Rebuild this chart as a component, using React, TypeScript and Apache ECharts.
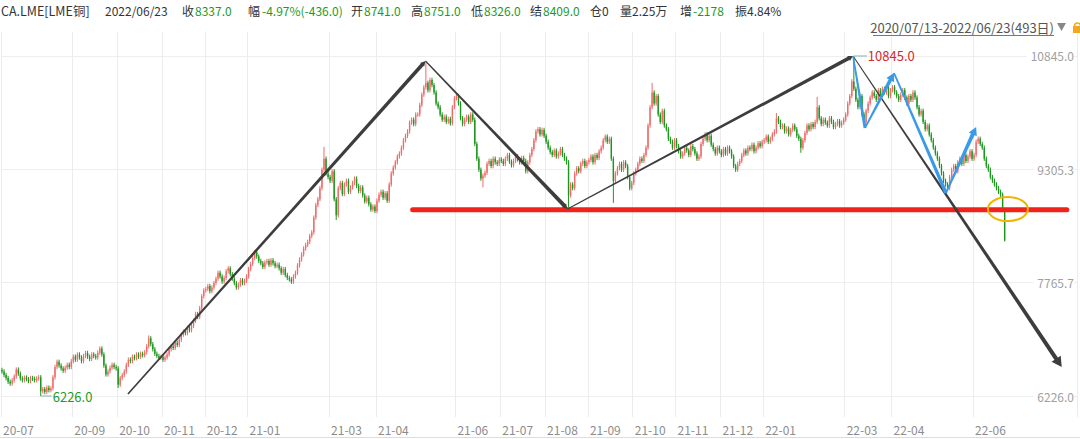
import React, { useEffect, useRef } from 'react';
import * as echarts from 'echarts';

// ---------- data ----------
const monthLabels = ['20-07','20-08','20-09','20-10','20-11','20-12','21-01','21-02','21-03','21-04','21-05','21-06','21-07','21-08','21-09','21-10','21-11','21-12','22-01','22-02','22-03','22-04','22-05','22-06'];
const shownMonths = ['20-07','20-09','20-10','20-11','20-12','21-01','21-03','21-04','21-06','21-07','21-08','21-09','21-10','21-11','21-12','22-01','22-03','22-04','22-06'];

const jul20 = [6560, 6510, 6470, 6420, 6395, 6440, 6490, 6585, 6530, 6465, 6440, 6475, 6455, 6430, 6470];
const aug20 = [6460, 6440, 6465, 6480, 6290, 6320, 6280, 6340, 6305, 6330, 6480, 6620, 6690, 6640, 6600, 6570, 6610, 6650, 6620, 6700];
const sep20 = [6760, 6720, 6790, 6750, 6700, 6770, 6810, 6760, 6730, 6790, 6770, 6750, 6815, 6870, 6790, 6640, 6520, 6560, 6610, 6650, 6620, 6600];
const oct20 = [6380, 6470, 6510, 6560, 6650, 6720, 6700, 6760, 6740, 6790, 6760, 6800, 6780, 6820, 6900, 7010, 6930, 6860, 6800, 6770, 6745, 6760];
const nov20 = [6720, 6750, 6790, 6860, 6900, 6880, 6950, 6920, 6990, 7060, 7100, 7080, 7150, 7120, 7180, 7250, 7340, 7300, 7420, 7580, 7660];
const dec20 = [7680, 7720, 7650, 7700, 7760, 7820, 7900, 7850, 7780, 7830, 7920, 7960, 7880, 7820, 7760, 7700, 7740, 7800, 7760, 7790, 7850];
const jan21 = [7950, 8020, 8100, 8180, 8120, 8060, 8030, 7980, 8040, 8060, 8010, 8070, 8030, 7990, 8010, 7960, 7900, 7950, 7870, 7830];
const feb21 = [7810, 7780, 7850, 7900, 8000, 8080, 8150, 8230, 8280, 8320, 8400, 8450, 8650, 8820, 8900, 9050, 9300, 9450, 9250, 9200];
const mar21 = [9150, 9280, 8900, 8680, 9050, 9120, 8970, 9100, 9150, 9000, 9060, 9120, 9180, 9080, 9010, 9060, 8950, 8870, 8920, 8830, 8760, 8800, 8740];
const apr21 = [8880, 8960, 9000, 8920, 8980, 8880, 9100, 9250, 9330, 9400, 9480, 9520, 9600, 9700, 9760, 9820, 9940, 9980, 9920, 10050];
const may21 = [10050, 10180, 10320, 10420, 10480, 10380, 10520, 10450, 10350, 10200, 10150, 10050, 9980, 10020, 9950, 9990, 9930, 10150, 10270];
const jun21 = [10300, 10200, 10000, 9920, 9980, 10020, 9950, 10050, 9980, 9650, 9450, 9300, 9180, 9220, 9260, 9380, 9420, 9350, 9450, 9400, 9380, 9440];
const jul21 = [9420, 9380, 9450, 9500, 9410, 9360, 9420, 9480, 9440, 9400, 9460, 9420, 9280, 9400, 9500, 9580, 9700, 9820, 9850, 9780, 9840, 9760];
const aug21 = [9680, 9600, 9540, 9500, 9560, 9480, 9520, 9580, 9500, 9450, 9400, 8950, 9100, 9050, 9250, 9320, 9280, 9380, 9420, 9350, 9400];
const sep21 = [9430, 9480, 9400, 9500, 9460, 9550, 9600, 9700, 9750, 9680, 9720, 9450, 9150, 9250, 9320, 9380, 9300, 9400, 9350, 9200, 9050, 9120];
const oct21 = [9250, 9300, 9380, 9450, 9420, 9500, 9600, 9900, 10150, 10350, 10200, 10300, 10050, 9950, 10100, 9900, 9850, 9720, 9680, 9600, 9700];
const nov21 = [9620, 9550, 9480, 9520, 9600, 9560, 9500, 9620, 9580, 9520, 9450, 9480, 9650, 9720, 9780, 9700, 9760, 9640, 9580, 9520, 9600, 9550];
const dec21 = [9500, 9580, 9520, 9600, 9550, 9480, 9350, 9300, 9380, 9420, 9500, 9560, 9520, 9600, 9580, 9640, 9550, 9600, 9660, 9620, 9680];
const jan22 = [9700, 9750, 9680, 9720, 9780, 9820, 10000, 9950, 9880, 9900, 9820, 9860, 9780, 9840, 9900, 9850, 9760, 9720, 9600, 9700];
const feb22 = [9800, 9900, 9850, 9920, 9880, 9950, 10150, 10000, 9920, 9980, 9940, 9900, 10000, 9950, 9880, 9920, 9960, 9900, 9940, 9980];
const mar22 = [10050, 10200, 10300, 10500, 10400, 10250, 10150, 10300, 10050, 9950, 10100, 10200, 10280, 10350, 10300, 10250, 10380, 10320, 10400, 10350, 10420, 10300, 10380];
const apr22 = [10420, 10350, 10300, 10250, 10320, 10380, 10280, 10200, 10300, 10250, 10350, 10280, 10150, 10050, 10100, 9950, 9850, 9900, 9780];
const may22 = [9700, 9600, 9520, 9450, 9350, 9250, 9150, 9100, 9050, 9200, 9300, 9350, 9280, 9400, 9450, 9380, 9500, 9420, 9480, 9550, 9450];
const jun22 = [9500, 9680, 9720, 9650, 9600, 9450, 9350, 9300, 9200, 9150, 9100, 9050, 9000, 8960, 8760, 8337];

const monthCloses = [jul20, aug20, sep20, oct20, nov20, dec20, jan21, feb21, mar21, apr21, may21, jun21, jul21, aug21, sep21, oct21, nov21, dec21, jan22, feb22, mar22, apr22, may22, jun22];

// wick extremes that stand out in the picture
const highIdx = [72, 158, 208, 319, 380, 400, 418, 492];
const highVal = [7050, 9610, 10760, 10480, 10070, 10290, 10845, 8751];
const lowIdx = [19, 57, 164, 236, 278, 300, 392, 492];
const lowVal = [6226, 6335, 8617, 9060, 8790, 8850, 9530, 8326];
const lastOpen = 8741;

const yTicks = [6226.0, 7765.67, 9305.33, 10845.0];
const PAD_SLOTS = 35;

// drawn annotations, in (trading-day index, price)
const grayLines = [
  { from: [61.8, 6253], to: [207.8, 10777], w0: 1.6, w1: 3.6 },
  { from: [207.8, 10777], to: [277.5, 8766], w0: 1.2, w1: 4 },
  { from: [277.5, 8766], to: [417.6, 10845], w0: 1, w1: 3.6 },
  { from: [417.6, 10845], to: [520, 6620], w0: 1, w1: 4.2 },
];
const blueLines = [
  { from: [417.6, 10845], to: [423.5, 9867], w0: 1.6, w1: 3, head: false },
  { from: [423.5, 9867], to: [437.7, 10614], w0: 1.6, w1: 3.6, head: true },
  { from: [437.7, 10614], to: [463.2, 8984], w0: 1.8, w1: 3.6, head: false },
  { from: [463.2, 8984], to: [478, 9880], w0: 1.8, w1: 4, head: true },
];
const supportLine = { from: [201.5, 8755], to: [522.5, 8755] };
const circleMark = [493.6, 8766];

// header quote line
const headerParts: [string, number, boolean][] = [
  ['CA.LME[LME铜]', 1, false],
  ['2022/06/23', 105, false],
  ['收', 182, false], ['8337.0', 195, true],
  ['幅', 248, false], ['-4.97%(-436.0)', 262, true],
  ['开', 351, false], ['8741.0', 364, true],
  ['高', 411, false], ['8751.0', 424, true],
  ['低', 471, false], ['8326.0', 484, true],
  ['结', 530, false], ['8409.0', 543, true],
  ['仓0', 590, false],
  ['量2.25万', 620, false],
  ['增', 680, false], ['-2178', 693, true],
  ['振4.84%', 735, false],
];
const rangeText = '2020/07/13-2022/06/23(493日)';

// ---------- derived ----------
const categories: string[] = [];
monthLabels.forEach((m, k) => {
  for (let d = 0; d < monthCloses[k].length; d++) categories.push(m + '|' + d);
});
for (let p = 0; p < PAD_SLOTS; p++) categories.push('pad|' + p);

const closes: number[] = ([] as number[]).concat(...monthCloses);
const candles = closes.map((c, i) => {
  let o = i === 0 ? c + 20 : closes[i - 1];
  if (i === closes.length - 1) o = lastOpen;
  let hi = Math.max(o, c) + 30;
  let lo = Math.min(o, c) - 30;
  const hk = highIdx.indexOf(i);
  if (hk >= 0) hi = highVal[hk];
  const lk = lowIdx.indexOf(i);
  if (lk >= 0) lo = lowVal[lk];
  return [i, o, c, lo, hi];
});

const showTick = (_idx: number, val: string) => {
  const [m, d] = String(val).split('|');
  return d === '0' && shownMonths.indexOf(m) >= 0;
};

const FONT = "'Microsoft YaHei','Noto Sans CJK SC','Noto Sans',sans-serif";
const UP = '#f06a6a';
const DOWN = '#1c961c';

export default function App() {
  const ref = useRef<HTMLDivElement>(null);
  useEffect(() => {
    const chart = echarts.init(ref.current!, null, { renderer: 'svg' });
    chart.setOption({
      animation: false,
      backgroundColor: '#fff',
      grid: { left: 0, right: 3, top: 32, bottom: 22, containLabel: false },
      xAxis: {
        type: 'category',
        data: categories,
        boundaryGap: true,
        axisLine: { show: false },
        axisTick: { show: false },
        axisLabel: {
          interval: showTick,
          formatter: (v: string) => v.split('|')[0],
          align: 'left',
          color: '#8c8c8c',
          fontSize: 12,
          fontFamily: FONT,
          margin: 6,
          padding: [0, 0, 0, 1],
        },
        splitLine: { show: true, interval: showTick, lineStyle: { color: '#ececec', width: 1 } },
      },
      yAxis: {
        type: 'value',
        position: 'right',
        min: 5941,
        max: 11171,
        axisLine: { show: false },
        axisTick: { show: false, customValues: yTicks },
        axisLabel: {
          inside: true,
          customValues: yTicks,
          formatter: (v: number) => v.toFixed(1),
          color: '#a0a0a0',
          fontSize: 12,
          fontFamily: FONT,
          margin: 3,
          backgroundColor: '#fff',
          padding: [0, 0, 0, 4],
        },
        splitLine: { show: true, lineStyle: { color: '#eeeeee', width: 1 } },
      },
      series: [
        {
          type: 'custom',
          data: candles,
          encode: { x: 0, y: [1, 2, 3, 4] },
          z: 2,
          renderItem: (_params: any, api: any) => {
            const i = api.value(0);
            const o = api.value(1);
            const c = api.value(2);
            const lo = api.value(3);
            const hi = api.value(4);
            const pO = api.coord([i, o]);
            const pC = api.coord([i, c]);
            const pL = api.coord([i, lo]);
            const pH = api.coord([i, hi]);
            const w = api.size([1, 0])[0] * 0.68;
            const col = c >= o ? UP : DOWN;
            const top = Math.min(pO[1], pC[1]);
            const h = Math.max(1, Math.abs(pO[1] - pC[1]));
            return {
              type: 'group',
              children: [
                { type: 'line', shape: { x1: pH[0], y1: pH[1], x2: pL[0], y2: pL[1] }, style: { stroke: col, lineWidth: 1 } },
                { type: 'rect', shape: { x: pO[0] - w / 2, y: top, width: w, height: h }, style: { fill: col } },
              ],
            };
          },
        },
      ],
    });

    const px = (i: number, p: number): number[] => {
      const i0 = Math.floor(i);
      const f = i - i0;
      const a = chart.convertToPixel({ gridIndex: 0 }, [i0, p]) as number[];
      const b = chart.convertToPixel({ gridIndex: 0 }, [i0 + 1, p]) as number[];
      return [a[0] + (b[0] - a[0]) * f, a[1]];
    };

    const taper = (p0: number[], p1: number[], w0: number, w1: number, color: string, head: number) => {
      const dx = p1[0] - p0[0];
      const dy = p1[1] - p0[1];
      const L = Math.hypot(dx, dy);
      const ux = dx / L, uy = dy / L, nx = -uy, ny = ux;
      const els: any[] = [];
      const end = head > 0 ? [p1[0] - ux * head * 0.8, p1[1] - uy * head * 0.8] : p1;
      els.push({
        type: 'polygon',
        z: 50,
        shape: {
          points: [
            [p0[0] + nx * w0 / 2, p0[1] + ny * w0 / 2],
            [end[0] + nx * w1 / 2, end[1] + ny * w1 / 2],
            [end[0] - nx * w1 / 2, end[1] - ny * w1 / 2],
            [p0[0] - nx * w0 / 2, p0[1] - ny * w0 / 2],
          ],
        },
        style: { fill: color },
      });
      if (head > 0) {
        const bx = p1[0] - ux * head, by = p1[1] - uy * head;
        const hw = head * 0.55;
        els.push({
          type: 'polygon',
          z: 50,
          shape: { points: [[p1[0], p1[1]], [bx + nx * hw, by + ny * hw], [bx - nx * hw, by - ny * hw]] },
          style: { fill: color },
        });
      }
      return els;
    };

    const g: any[] = [];
    // header
    headerParts.forEach(([t, x, isVal], k) => {
      g.push({
        type: 'text', x, y: 10, z: 60,
        style: {
          text: t,
          fill: isVal ? '#1d9a1d' : '#333333',
          fontSize: k === 0 ? 12.5 : 12,
          fontFamily: FONT,
          textVerticalAlign: 'middle',
          textAlign: 'left',
        },
      });
    });
    // date range
    g.push({
      type: 'text', x: 1054, y: 27, z: 60,
      style: { text: rangeText, fill: '#555', fontSize: 13, fontFamily: FONT, textAlign: 'right', textVerticalAlign: 'middle' },
    });
    g.push({ type: 'line', z: 60, shape: { x1: 873, y1: 35.5, x2: 1054, y2: 35.5 }, style: { stroke: '#777', lineWidth: 1 } });
    g.push({ type: 'polygon', z: 60, shape: { points: [[1057, 23], [1066, 23], [1061.5, 31]] }, style: { fill: '#888' } });
    g.push({ type: 'rect', z: 60, shape: { x: 1073, y: 26, width: 9, height: 7 }, style: { fill: '#f3a81b' } });
    g.push({ type: 'arc', z: 60, shape: { cx: 1077.5, cy: 26, r: 3, startAngle: Math.PI, endAngle: 2 * Math.PI }, style: { stroke: '#f3a81b', lineWidth: 1.5, fill: 'none' } });
    // bottom border
    g.push({ type: 'line', z: 60, shape: { x1: 0, y1: 437.5, x2: 1080, y2: 437.5 }, style: { stroke: '#dddddd', lineWidth: 1 } });

    // support line
    const s0 = px(supportLine.from[0], supportLine.from[1]);
    const s1 = px(supportLine.to[0], supportLine.to[1]);
    g.push({ type: 'line', z: 45, shape: { x1: s0[0], y1: s0[1], x2: s1[0], y2: s1[1] }, style: { stroke: '#f0221a', lineWidth: 5, lineCap: 'round' } });

    grayLines.forEach((l, k) => {
      g.push(...taper(px(l.from[0], l.from[1]), px(l.to[0], l.to[1]), l.w0, l.w1, '#3d3d3d', k === 3 ? 10 : 5));
    });
    blueLines.forEach((l) => {
      g.push(...taper(px(l.from[0], l.from[1]), px(l.to[0], l.to[1]), l.w0, l.w1, '#3a9ae8', l.head ? 8 : 0));
    });

    // ellipse
    const ce = px(circleMark[0], circleMark[1]);
    g.push({ type: 'ellipse', z: 55, shape: { cx: ce[0], cy: ce[1], rx: 20, ry: 12 }, style: { stroke: '#f2b400', lineWidth: 2, fill: 'none' } });

    // extreme labels
    const hiK = highIdx.indexOf(418);
    const pk = px(418, highVal[hiK]);
    g.push({ type: 'line', z: 55, shape: { x1: pk[0], y1: pk[1], x2: pk[0] + 13, y2: pk[1] }, style: { stroke: '#7fb8b8', lineWidth: 1 } });
    g.push({ type: 'text', x: pk[0] + 14, y: pk[1], z: 60, style: { text: highVal[hiK].toFixed(1), fill: '#d42a2a', fontSize: 13, fontFamily: FONT, textVerticalAlign: 'middle' } });
    const loK = lowIdx.indexOf(19);
    const lw = px(19, lowVal[loK]);
    g.push({ type: 'line', z: 55, shape: { x1: lw[0], y1: lw[1], x2: lw[0] + 11, y2: lw[1] }, style: { stroke: '#7fb8b8', lineWidth: 1 } });
    g.push({ type: 'text', x: lw[0] + 12, y: lw[1], z: 60, style: { text: lowVal[loK].toFixed(1), fill: '#229a22', fontSize: 13, fontFamily: FONT, textVerticalAlign: 'middle' } });

    chart.setOption({ graphic: g });
    return () => chart.dispose();
  }, []);
  return <div ref={ref} style={{ position: 'fixed', left: 0, top: 0, width: 1080, height: 439, background: '#fff' }} />;
}
